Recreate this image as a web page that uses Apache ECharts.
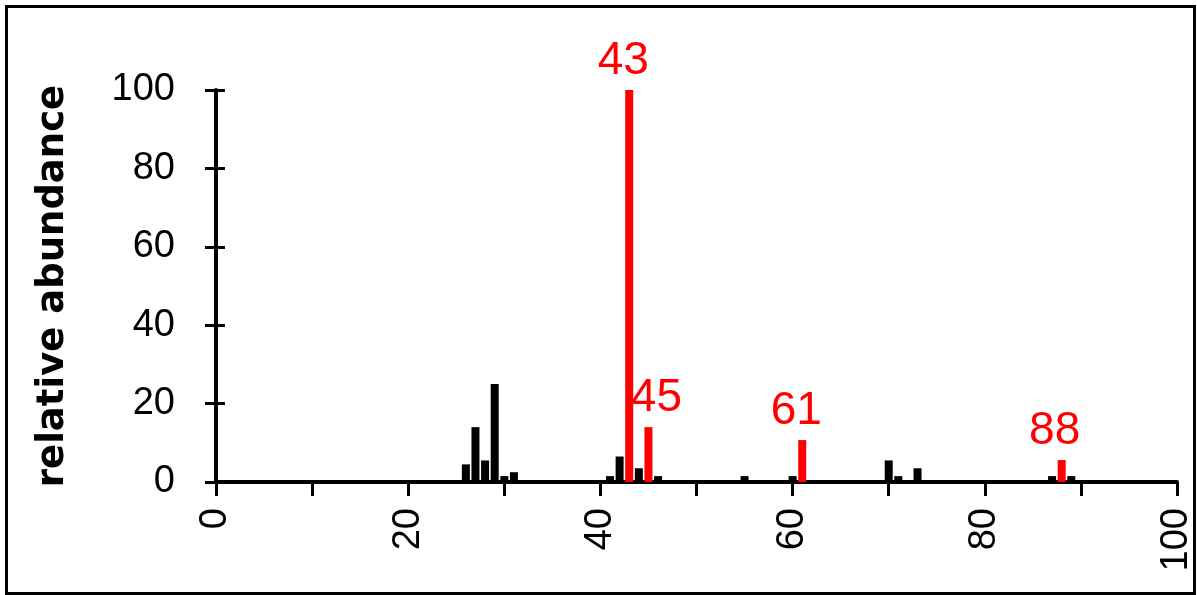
<!DOCTYPE html>
<html>
<head>
<meta charset="utf-8">
<script src="https://cdn.jsdelivr.net/npm/echarts@6/dist/echarts.min.js"></script>
<style>
html,body{margin:0;padding:0;background:#fff;}
#chart{width:1197px;height:595px;}
</style>
</head>
<body>
<div id="chart"></div>
<script>
// m/z values and relative abundances (black peaks)
const blackMz = [26, 27, 28, 29, 30, 31, 41, 42, 44, 46, 55, 60, 70, 71, 73, 87, 89];
const blackAbundance = [4.5, 14, 5.5, 25, 1.5, 2.5, 1.5, 6.5, 3.5, 1.5, 1.5, 1.5, 5.5, 1.5, 3.5, 1.5, 1.5];
// labelled (red) peaks
const redMz = [43, 45, 61, 88];
const redAbundance = [100, 14, 10.7, 5.6];
const xTickLabels = ['0', '20', '40', '60', '80', '100'];
const yTickLabels = ['0', '20', '40', '60', '80', '100'];
const yTitle = 'relative abundance';

// style: horizontal label nudges per labelled peak
const labelNudge = {43: -6, 45: 8, 61: -6, 88: -7};

const chart = echarts.init(document.getElementById('chart'), null, {renderer: 'canvas'});
const font = '"Liberation Sans", Arial, sans-serif';

const blackData = blackMz.map((m, i) => [m, blackAbundance[i]]);
const redData = redMz.map((m, i) => ({
  value: [m, redAbundance[i]],
  label: {offset: [labelNudge[m] || 0, 0]}
}));

chart.setOption({
  animation: false,
  backgroundColor: '#fff',
  grid: {left: 216, right: 20, top: 90, bottom: 113, containLabel: false},
  xAxis: {
    type: 'value', min: 0, max: 100, interval: 10,
    axisLine: {show: true, lineStyle: {color: '#000', width: 4}},
    axisTick: {show: true, length: 14, lineStyle: {color: '#000', width: 3}},
    axisLabel: {
      show: true, rotate: 90, margin: 26, color: '#000',
      fontFamily: font, fontSize: 38,
      formatter: v => { const s = String(v); return xTickLabels.includes(s) ? s : ''; }
    },
    splitLine: {show: false}
  },
  yAxis: [{
    type: 'value', min: 0, max: 100, interval: 20,
    name: yTitle, nameLocation: 'middle', nameGap: 144, nameRotate: 90,
    nameTextStyle: {color: '#000', fontFamily: '"DejaVu Sans", sans-serif', fontWeight: 'bold', fontSize: 37},
    axisLine: {show: true, lineStyle: {color: '#000', width: 4}},
    axisTick: {show: true, length: 11, lineStyle: {color: '#000', width: 3}},
    axisLabel: {
      show: true, margin: 41, color: '#000', fontFamily: font, fontSize: 38,
      formatter: v => { const s = String(v); return yTickLabels.includes(s) ? s : ''; }
    },
    splitLine: {show: false}
  }, {
    type: 'value', min: 0, max: 100, interval: 20, position: 'left',
    axisLine: {show: false},
    axisTick: {show: true, inside: true, length: 9, lineStyle: {color: '#000', width: 3}},
    axisLabel: {show: false},
    splitLine: {show: false}
  }],
  graphic: [{
    type: 'rect', left: 4, top: 4, silent: true,
    shape: {width: 1188, height: 587},
    style: {fill: 'none', stroke: '#000', lineWidth: 3}
  }],
  series: [{
    type: 'bar', name: 'peaks', data: blackData,
    barWidth: 8, barGap: '-100%',
    itemStyle: {color: '#000'},
    z: 2
  }, {
    type: 'bar', name: 'labelled', data: redData,
    barWidth: 8, barGap: '-100%',
    itemStyle: {color: '#ff0000'},
    label: {
      show: true, position: 'top', distance: 6, color: '#ff0000',
      fontFamily: font, fontSize: 46,
      formatter: p => String(p.value[0])
    },
    z: 3
  }]
});
</script>
</body>
</html>
